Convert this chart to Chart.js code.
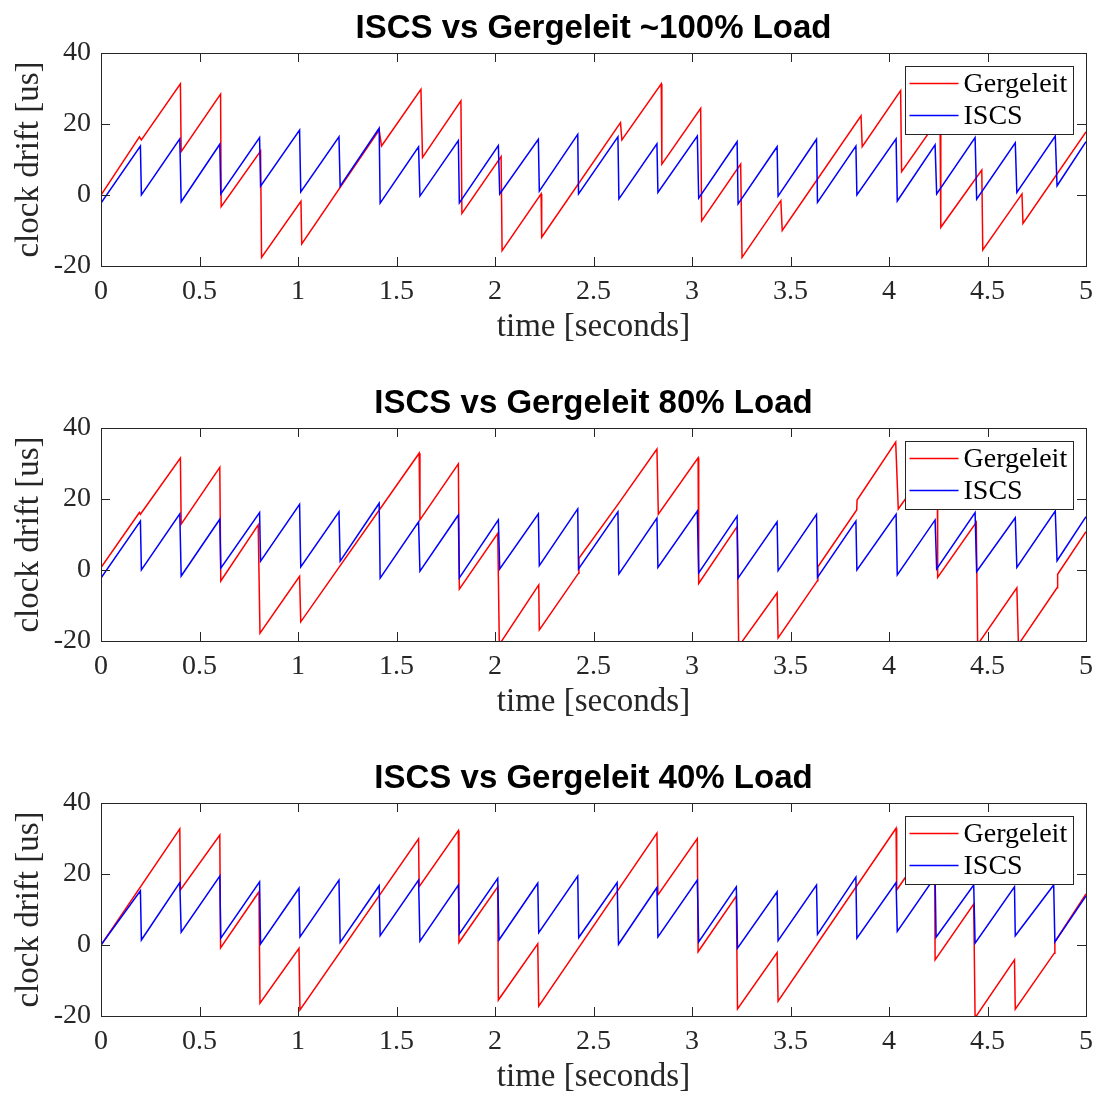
<!DOCTYPE html>
<html>
<head>
<meta charset="utf-8">
<script src="https://cdn.jsdelivr.net/npm/chart.js@4.4.1/dist/chart.umd.min.js"></script>
<style>
html, body { margin: 0; padding: 0; background: #fff; overflow: hidden; }
.panel { position: absolute; left: 0; width: 1097px; height: 347px; }
</style>
</head>
<body>
<div class="panel" style="top:0px"><canvas id="load100" width="1097" height="347"></canvas></div>
<div class="panel" style="top:375px"><canvas id="load80" width="1097" height="347"></canvas></div>
<div class="panel" style="top:750px"><canvas id="load40" width="1097" height="347"></canvas></div>
<script>
// ~100% load
const gergTime100 = [0, 0.195, 0.205, 0.403, 0.407, 0.607, 0.610, 0.810, 0.815, 1.015, 1.019, 1.412, 1.424, 1.624, 1.632, 1.827, 1.832, 2.031, 2.036, 2.234, 2.237, 2.637, 2.644, 2.844, 2.847, 3.044, 3.049, 3.247, 3.254, 3.451, 3.458, 3.858, 3.864, 4.059, 4.064, 4.259, 4.263, 4.471, 4.476, 4.675, 4.680, 5.0];
const gergDrift100 = [0, 16.4, 15.5, 31.3, 12.2, 28.4, -3.3, 12.4, -17.6, -1.8, -13.8, 18.3, 13.8, 29.8, 10.6, 26.5, -5.2, 10.8, -15.7, 0.3, -11.9, 20.4, 15.5, 31.3, 8.7, 24.4, -7.3, 8.7, -17.6, -1.6, -10.0, 22.3, 13.6, 29.4, 6.6, 22.0, -9.1, 7.0, -15.5, 0.3, -8.0, 17.8];
const iscsTime100 = [0, 0.200, 0.205, 0.400, 0.407, 0.603, 0.608, 0.805, 0.810, 1.008, 1.014, 1.208, 1.214, 1.412, 1.417, 1.612, 1.619, 1.814, 1.819, 2.017, 2.024, 2.220, 2.225, 2.420, 2.424, 2.624, 2.629, 2.822, 2.827, 3.027, 3.034, 3.229, 3.234, 3.432, 3.437, 3.632, 3.637, 3.832, 3.837, 4.036, 4.042, 4.234, 4.242, 4.437, 4.445, 4.641, 4.649, 4.844, 4.853, 5.0];
const iscsDrift100 = [-2.3, 13.8, 0, 15.8, -1.9, 14.3, 0.3, 16.2, 2.5, 18.3, 0.9, 16.4, 2.5, 18.8, -2.3, 13.6, -0.3, 15.3, -2.2, 13.9, 0.3, 15.7, 1.1, 17.1, 0.3, 16.4, -1.1, 14.4, 0.7, 16.6, -0.9, 15.0, -2.5, 13.6, -0.3, 15.7, -2.1, 13.8, 0, 15.8, -1.7, 14.1, 0.3, 16.2, -1.2, 14.7, 0.7, 16.6, 2.6, 15.0];

// 80% load
const gergTime80 = [0, 0.195, 0.200, 0.403, 0.407, 0.603, 0.608, 0.798, 0.807, 1.008, 1.014, 1.615, 1.619, 1.814, 1.819, 2.014, 2.022, 2.222, 2.225, 2.424, 2.426, 2.624, 2.822, 2.829, 3.031, 3.034, 3.229, 3.237, 3.432, 3.437, 3.637, 3.639, 3.836, 3.838, 4.034, 4.047, 4.245, 4.247, 4.443, 4.450, 4.649, 4.657, 4.853, 4.856, 5.0];
const gergDrift80 = [0.7, 16.2, 15.7, 31.5, 12.9, 28.9, -3.1, 12.7, -17.8, -1.8, -14.6, 32.9, 14.1, 29.9, -5.4, 10.3, -21, -4.2, -16.9, -0.9, 3.3, 18.5, 34.1, 15.7, 31.6, -3.8, 12.2, -21.5, -6.4, -19.1, -3.0, 0.9, 16.9, 19.7, 36.0, 17.2, 32.5, -2.1, 13.4, -21, -5.0, -21, -5.0, -1.2, 10.8];
const iscsTime80 = [0, 0.200, 0.205, 0.400, 0.407, 0.603, 0.608, 0.805, 0.810, 1.008, 1.014, 1.208, 1.214, 1.412, 1.417, 1.612, 1.619, 1.814, 1.819, 2.017, 2.024, 2.220, 2.225, 2.420, 2.424, 2.624, 2.629, 2.822, 2.827, 3.027, 3.034, 3.229, 3.234, 3.432, 3.437, 3.632, 3.637, 3.832, 3.837, 4.036, 4.042, 4.234, 4.242, 4.437, 4.445, 4.641, 4.649, 4.844, 4.853, 5.0];
const iscsDrift80 = [-2.3, 13.8, 0, 15.8, -1.7, 14.3, 0.5, 16.2, 2.5, 18.5, 0.9, 16.4, 2.5, 18.8, -2.3, 13.6, -0.3, 15.5, -2.2, 14.1, 0.3, 15.8, 1.2, 17.2, 0.3, 16.4, -1.1, 14.6, 0.7, 16.6, -0.8, 15.2, -2.3, 13.6, -0.2, 15.7, -2.1, 13.8, 0, 15.7, -1.4, 14.1, 0.3, 16.2, -0.5, 14.7, 0.7, 16.6, 2.6, 15.0];

// 40% load
const gergTime40 = [0, 0.400, 0.403, 0.603, 0.607, 0.802, 0.807, 1.005, 1.010, 1.612, 1.615, 1.814, 1.817, 2.014, 2.017, 2.217, 2.222, 2.822, 2.827, 3.027, 3.031, 3.225, 3.231, 3.432, 3.437, 4.036, 4.039, 4.232, 4.234, 4.430, 4.437, 4.637, 4.641, 4.839, 4.842, 5.0];
const gergDrift40 = [0, 32.7, 15.5, 31.0, -0.8, 15.0, -16.4, -0.9, -18.3, 29.9, 16.4, 32.2, 0.7, 16.4, -15.5, 0.3, -17.2, 31.5, 14.1, 30.0, -1.9, 13.8, -18.0, -2.1, -15.8, 32.9, 15.5, 31.0, -4.2, 11.5, -20.5, -4.2, -18.1, -2.3, 0.9, 14.4];
const iscsTime40 = [0, 0.200, 0.205, 0.400, 0.407, 0.603, 0.608, 0.805, 0.810, 1.005, 1.010, 1.208, 1.214, 1.412, 1.417, 1.612, 1.619, 1.814, 1.819, 2.014, 2.020, 2.217, 2.222, 2.420, 2.425, 2.620, 2.627, 2.822, 2.827, 3.027, 3.034, 3.225, 3.231, 3.432, 3.437, 3.632, 3.637, 3.832, 3.837, 4.036, 4.042, 4.234, 4.239, 4.430, 4.437, 4.637, 4.641, 4.836, 4.842, 5.0];
const iscsDrift40 = [0, 15.3, 1.4, 17.6, 3.6, 19.4, 1.9, 17.8, 0.3, 16.0, 2.3, 18.3, 0.7, 16.7, 2.6, 18.3, 1.1, 16.9, 3.1, 18.8, 1.4, 17.4, 3.5, 19.4, 2.1, 17.6, 0.2, 16.2, 2.3, 18.3, 0.9, 16.4, -0.9, 15.0, 1.2, 16.9, 3.0, 19.1, 1.9, 17.6, 3.8, 19.2, 2.2, 16.9, 0.5, 16.4, 2.6, 16.9, 0.9, 13.8];

const timeTicks = [0, 0.5, 1, 1.5, 2, 2.5, 3, 3.5, 4, 4.5, 5];
const timeTickLabels = ['0', '0.5', '1', '1.5', '2', '2.5', '3', '3.5', '4', '4.5', '5'];
const driftTicks = [-20, 0, 20, 40];
const driftTickLabels = ['-20', '0', '20', '40'];

const axisColor = '#262626';

// box round the axes, inward tick marks and the boxed legend
const matlabAxes = {
  id: 'matlabAxes',
  afterDatasetsDraw(chart) {
    const ctx = chart.ctx;
    const a = chart.chartArea;
    const xs = chart.scales.x;
    const ys = chart.scales.y;
    ctx.save();
    ctx.strokeStyle = axisColor;
    ctx.lineWidth = 1;
    ctx.strokeRect(a.left + 0.5, a.top + 0.5, a.right - a.left, a.bottom - a.top);
    ctx.beginPath();
    timeTicks.forEach(t => {
      const px = Math.round(xs.getPixelForValue(t)) + 0.5;
      ctx.moveTo(px, a.bottom); ctx.lineTo(px, a.bottom - 9);
      ctx.moveTo(px, a.top); ctx.lineTo(px, a.top + 9);
    });
    driftTicks.forEach(v => {
      const py = Math.round(ys.getPixelForValue(v)) + 0.5;
      ctx.moveTo(a.left, py); ctx.lineTo(a.left + 9, py);
      ctx.moveTo(a.right, py); ctx.lineTo(a.right - 9, py);
    });
    ctx.stroke();

    // legend
    const w = 168, h = 68;
    const lx = Math.round(a.right - 13 - w) + 0.5;
    const ly = Math.round(a.top + 13) + 0.5;
    ctx.fillStyle = '#fff';
    ctx.fillRect(lx, ly, w, h);
    ctx.strokeStyle = axisColor;
    ctx.strokeRect(lx, ly, w, h);
    ctx.font = '28px "Liberation Serif"';
    ctx.textBaseline = 'middle';
    ctx.textAlign = 'left';
    chart.data.datasets.forEach((ds, i) => {
      const cy = ly + 17 + i * 32;
      ctx.strokeStyle = ds.borderColor;
      ctx.lineWidth = 1.4;
      ctx.beginPath();
      ctx.moveTo(lx + 4, cy); ctx.lineTo(lx + 53, cy);
      ctx.stroke();
      ctx.fillStyle = '#000';
      ctx.fillText(ds.label, lx + 58, cy + 1);
    });
    ctx.restore();
  }
};

function buildDriftChart(canvasId, title, gergTime, gergDrift, iscsTime, iscsDrift) {

  const toPoints = (times, values) => times.map((t, i) => ({ x: t, y: values[i] }));

  const ctx = document.getElementById(canvasId).getContext('2d');

  return new Chart(ctx, {
    type: 'line',
    data: {
      datasets: [
        {
          label: 'Gergeleit',
          data: toPoints(gergTime, gergDrift),
          borderColor: '#ff0000',
          borderWidth: 1.5,
          pointRadius: 0,
          tension: 0,
          order: 1
        },
        {
          label: 'ISCS',
          data: toPoints(iscsTime, iscsDrift),
          borderColor: '#0000ff',
          borderWidth: 1.5,
          pointRadius: 0,
          tension: 0,
          order: 0
        }
      ]
    },
    options: {
      responsive: false,
      animation: false,
      events: [],
      layout: { padding: { left: 0, right: 11, top: 0, bottom: 0 } },
      plugins: {
        legend: { display: false },
        tooltip: { enabled: false },
        title: {
          display: true,
          text: title,
          fullSize: false,
          color: '#000',
          font: { family: '"Liberation Sans"', weight: 'bold', size: 33 },
          padding: { top: 9, bottom: 4.4 }
        }
      },
      scales: {
        x: {
          type: 'linear',
          min: 0,
          max: 5,
          afterFit: s => { s.height = 81; s.paddingLeft = 0; s.paddingRight = 0; },
          afterBuildTicks: s => { s.ticks = timeTicks.map(v => ({ value: v })); },
          grid: { display: false, drawTicks: false },
          border: { display: false },
          ticks: {
            autoSkip: false,
            maxRotation: 0,
            padding: 9,
            color: axisColor,
            font: { family: '"Liberation Serif"', size: 28 },
            callback: (v, i) => timeTickLabels[i]
          },
          title: {
            display: true,
            text: 'time [seconds]',
            color: axisColor,
            font: { family: '"Liberation Serif"', size: 33 },
            padding: { top: 0, bottom: 0 }
          }
        },
        y: {
          min: -20,
          max: 40,
          afterFit: s => { s.width = 101; },
          afterBuildTicks: s => { s.ticks = driftTicks.map(v => ({ value: v })); },
          grid: { display: false, drawTicks: false },
          border: { display: false },
          ticks: {
            padding: 10,
            color: axisColor,
            font: { family: '"Liberation Serif"', size: 28 },
            callback: (v, i) => driftTickLabels[i]
          },
          title: {
            display: true,
            text: 'clock drift [us]',
            color: axisColor,
            font: { family: '"Liberation Serif"', size: 33 },
            padding: { top: 10, bottom: 0 }
          }
        }
      }
    },
    plugins: [matlabAxes]
  });
}

buildDriftChart('load100', 'ISCS vs Gergeleit ~100% Load', gergTime100, gergDrift100, iscsTime100, iscsDrift100);
buildDriftChart('load80', 'ISCS vs Gergeleit 80% Load', gergTime80, gergDrift80, iscsTime80, iscsDrift80);
buildDriftChart('load40', 'ISCS vs Gergeleit 40% Load', gergTime40, gergDrift40, iscsTime40, iscsDrift40);
</script>
</body>
</html>
